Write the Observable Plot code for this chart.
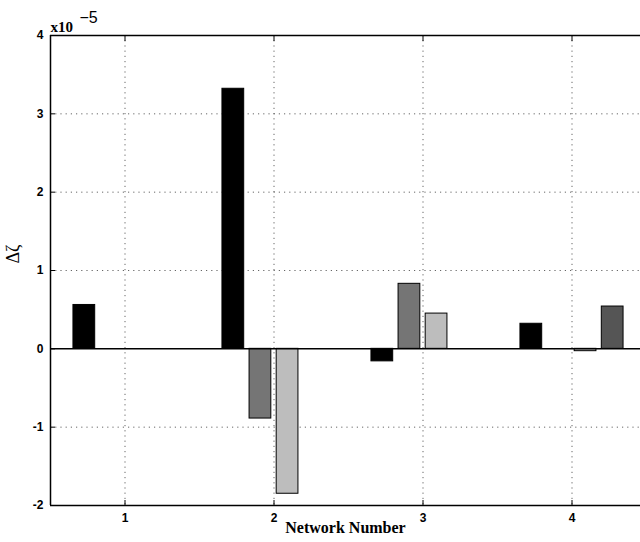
<!DOCTYPE html>
<html><head><meta charset="utf-8">
<script src="https://cdn.jsdelivr.net/npm/d3@7"></script>
<script src="https://cdn.jsdelivr.net/npm/@observablehq/plot@0.6"></script>
<style>body{margin:0;overflow:hidden;background:#fff}</style>
</head><body><div id="chart"></div>
<script>
const networks = [1, 2, 3, 4];
const seriesNames = ["s1", "s2", "s3", "s4"];
const series1 = [0.56, 3.32, -0.16, 0.32];
const series2 = [0, -0.89, 0.83, 0];
const series3 = [0, -1.85, 0.45, -0.03];
const series4 = [0, 0, 0, 0.54];
const seriesColors = ["#000000", "#757575", "#bdbdbd", "#555555"];
const yTicks = [-2, -1, 0, 1, 2, 3, 4];
const xTicks = [1, 2, 3, 4];

const allSeries = [series1, series2, series3, series4];
const spacing = 0.182, barW = 0.146;
const rows = [];
networks.forEach((n, i) => {
  allSeries.forEach((s, j) => {
    const c = n + (j - 1.5) * spacing;
    rows.push({net: n, series: seriesNames[j], x1: c - barW / 2, x2: c + barW / 2, v: s[i]});
  });
});

const sans = "Liberation Sans, Arial, sans-serif";
const serif = "Liberation Serif, Times New Roman, serif";
const grid = {stroke: "#333", strokeOpacity: 0.75, strokeDasharray: "1.2,4", strokeWidth: 1};
const chart = Plot.plot({
  width: 640, height: 542,
  marginLeft: 50, marginTop: 35, marginBottom: 37, marginRight: 0,
  x: {domain: [0.5, 4.5], range: [50, 646], label: null},
  y: {domain: [-2, 4], label: null},
  color: {domain: seriesNames, range: seriesColors},
  style: {background: "#fff", overflow: "hidden"},
  marks: [
    Plot.ruleX(xTicks, grid),
    Plot.ruleY(yTicks.filter(d => d > -2 && d < 4 && d !== 0), grid),
    Plot.rectY(rows, {x1: "x1", x2: "x2", y1: 0, y2: "v", fill: "series", stroke: "#000", strokeWidth: 1}),
    Plot.ruleY([0], {stroke: "#000", strokeWidth: 1.5}),
    Plot.ruleY([-2, 4], {stroke: "#000", strokeWidth: 1.5}),
    Plot.ruleX([0.5], {stroke: "#000", strokeWidth: 1.5}),
    Plot.axisX({ticks: xTicks, tickSize: 0, tickPadding: 8, tickFormat: d => d, fontSize: 12, fontWeight: "bold", fontFamily: sans, label: null}),
    Plot.axisX({ticks: xTicks, tickSize: -5, tickFormat: () => "", label: null}),
    Plot.axisX({anchor: "top", ticks: xTicks, tickSize: -5, tickFormat: () => "", label: null}),
    Plot.axisY({ticks: yTicks, tickSize: 0, tickPadding: 7, tickFormat: d => d, fontSize: 12, fontWeight: "bold", fontFamily: sans, label: null}),
    Plot.axisY({ticks: yTicks, tickSize: -5, tickFormat: () => "", label: null}),
    Plot.text(["x10"], {frameAnchor: "top-left", dx: 0, dy: -4, lineAnchor: "bottom", textAnchor: "start", fontSize: 15, fontWeight: "bold", fontFamily: serif, fill: "#000"}),
    Plot.text(["\u22125"], {frameAnchor: "top-left", dx: 29, dy: -13, lineAnchor: "bottom", textAnchor: "start", fontSize: 16, fontFamily: sans, fill: "#000"}),
    Plot.text(["\u0394\u03b6"], {frameAnchor: "left", dx: -37, dy: -7, rotate: -90, fontSize: 18, fontFamily: serif, fill: "#000"}),
    Plot.text(["Network Number"], {frameAnchor: "bottom", dy: 27, fontSize: 16, fontWeight: "bold", fontFamily: serif, fill: "#000"})
  ]
});
document.getElementById("chart").append(chart);
</script></body></html>
